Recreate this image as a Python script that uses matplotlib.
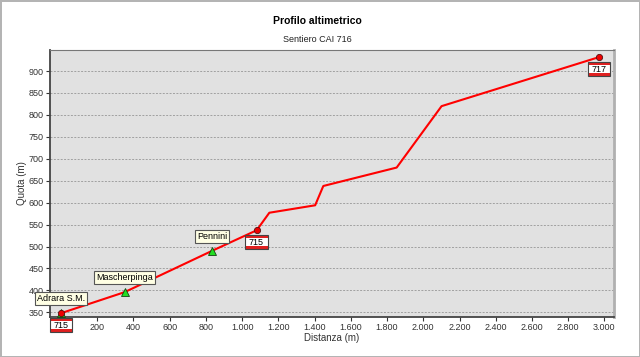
import matplotlib
matplotlib.use("Agg")
import matplotlib.pyplot as plt
import matplotlib.ticker as mticker
from matplotlib.patches import Rectangle
from matplotlib.transforms import ScaledTranslation

# Profile data
dist = [0, 351, 833, 1080, 1150, 1403, 1448, 1853, 2101, 2972]
quota = [348, 396, 490, 537, 577, 594, 638, 680, 820, 932]

# waypoints (green triangles with labels)
wp_names = ['Adrara S.M.', 'Mascherpinga', 'Pennini']
wp_dist = [0, 351, 833]
wp_quota = [348, 396, 490]

# trail junctions (red dots with CAI signs)
sign_labels = ['715', '715', '717']
sign_dist = [0, 1080, 2972]
sign_quota = [348, 537, 932]

plt.rcParams['font.family'] = ['Liberation Sans', 'DejaVu Sans']

fig = plt.figure(figsize=(6.4, 3.57), dpi=100)
fig.patch.set_edgecolor('#b4b4b4')
fig.patch.set_linewidth(2)
ax = fig.add_axes([50 / 640, 1 - 316.7 / 357, 564 / 640, 266.7 / 357])
ax.set_facecolor('#e1e1e1')

# title and subtitle
fig.text(317 / 640, 1 - 21 / 357, 'Profilo altimetrico', ha='center', va='center',
         fontsize=7.5, fontweight='bold', color='black')
fig.text(317 / 640, 1 - 40 / 357, 'Sentiero CAI 716', ha='center', va='center',
         fontsize=6.5, color='#222222')

# the profile
ax.plot(dist, quota, color='#ff0000', lw=1.5, zorder=3)
ax.plot(wp_dist, wp_quota, ls='none', marker='^', ms=6, mfc='#22dd22',
        mec='#114411', mew=0.6, zorder=4)
ax.plot(sign_dist, sign_quota, ls='none', marker='o', ms=4.5, mfc='#ee0000',
        mec='#551111', mew=0.6, zorder=5)

# waypoint labels
for name, x, y in zip(wp_names, wp_dist, wp_quota):
    ax.annotate(name, (x, y), xytext=(0, 10), textcoords='offset pixels',
                ha='center', va='bottom', fontsize=6.5, color='black',
                bbox=dict(boxstyle='square,pad=0.2', fc='#ffffe4', ec='#555555', lw=0.8),
                zorder=6, annotation_clip=False)

# CAI trail signs (red-white-red)
for lab, x, y in zip(sign_labels, sign_dist, sign_quota):
    tr = fig.dpi_scale_trans + ScaledTranslation(x, y, ax.transData)
    w, h, band = 0.225, 0.14, 0.032
    x0, y0 = -0.115, -0.05 - h
    for (yy, hh, col) in [(y0, band, '#e02020'), (y0 + band, h - 2 * band, 'white'),
                          (y0 + h - band, band, '#e02020')]:
        ax.add_patch(Rectangle((x0, yy), w, hh, transform=tr, fc=col, ec='none',
                               zorder=7, clip_on=False))
    ax.add_patch(Rectangle((x0, y0), w, h, transform=tr, fc='none', ec='#444444',
                           lw=0.8, zorder=8, clip_on=False))
    ax.text(x0 + w / 2, y0 + h / 2, lab, transform=tr, ha='center', va='center',
            fontsize=6.5, color='black', zorder=9, clip_on=False)

# axes
ax.set_xlim(-61, 3053)
ax.set_ylim(340, 948)
ax.set_xticks(range(200, 3001, 200))
ax.set_yticks(range(350, 901, 50))
ax.xaxis.set_major_formatter(mticker.FuncFormatter(
    lambda v, p: '{:,.0f}'.format(v).replace(',', '.')))
ax.tick_params(labelsize=6.5, colors='#333333', length=3, width=0.8, pad=1.5)
ax.grid(axis='y', color='#a0a0a0', ls=(0, (2, 1.5)), lw=0.7)
ax.set_axisbelow(True)

ax.spines['left'].set_color('#444444')
ax.spines['bottom'].set_color('#444444')
ax.spines['left'].set_linewidth(1.3)
ax.spines['bottom'].set_linewidth(1.3)
ax.spines['top'].set_color('#777777')
ax.spines['top'].set_linewidth(0.8)
ax.spines['right'].set_color('#b0b0b0')
ax.spines['right'].set_linewidth(2)

ax.set_xlabel('Distanza (m)', fontsize=7, color='#333333', labelpad=1)
ax.set_ylabel('Quota (m)', fontsize=7, color='#333333')
ax.yaxis.set_label_coords(-0.041, 0.5)

fig.savefig('out.png', dpi=100)
